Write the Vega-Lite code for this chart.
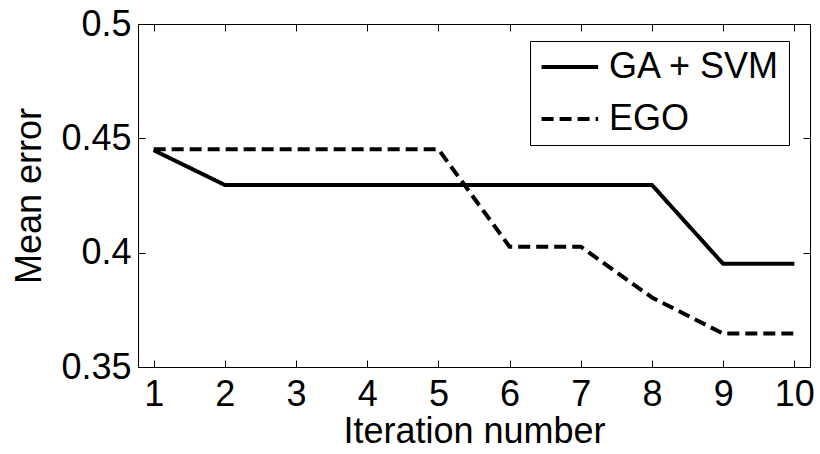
{
  "$schema": "https://vega.github.io/schema/vega-lite/v6.json",
  "width": 672,
  "height": 343,
  "autosize": "none",
  "padding": {"left": 138, "top": 24, "right": 10, "bottom": 87},
  "background": "white",
  "config": {
    "font": "Liberation Sans",
    "view": {"stroke": "black", "strokeWidth": 1},
    "axis": {"grid": false, "domain": false, "tickColor": "black", "labelColor": "black", "titleColor": "black", "labelFont": "Liberation Sans", "titleFont": "Liberation Sans", "labelFontSize": 36, "titleFontSize": 36, "titleFontWeight": "normal", "tickSize": -7, "tickWidth": 1}
  },
  "data": {"values": [
    {"iter": 1, "error": 0.4448, "method": "GA + SVM"},
    {"iter": 2, "error": 0.4296, "method": "GA + SVM"},
    {"iter": 3, "error": 0.4296, "method": "GA + SVM"},
    {"iter": 4, "error": 0.4296, "method": "GA + SVM"},
    {"iter": 5, "error": 0.4296, "method": "GA + SVM"},
    {"iter": 6, "error": 0.4296, "method": "GA + SVM"},
    {"iter": 7, "error": 0.4296, "method": "GA + SVM"},
    {"iter": 8, "error": 0.4296, "method": "GA + SVM"},
    {"iter": 9, "error": 0.3951, "method": "GA + SVM"},
    {"iter": 10, "error": 0.3951, "method": "GA + SVM"},
    {"iter": 1, "error": 0.4452, "method": "EGO"},
    {"iter": 2, "error": 0.4452, "method": "EGO"},
    {"iter": 3, "error": 0.4452, "method": "EGO"},
    {"iter": 4, "error": 0.4452, "method": "EGO"},
    {"iter": 5, "error": 0.4452, "method": "EGO"},
    {"iter": 6, "error": 0.4026, "method": "EGO"},
    {"iter": 7, "error": 0.4026, "method": "EGO"},
    {"iter": 8, "error": 0.3804, "method": "EGO"},
    {"iter": 9, "error": 0.3646, "method": "EGO"},
    {"iter": 10, "error": 0.3646, "method": "EGO"}
  ]},
  "layer": [
    {
      "mark": {"type": "line", "color": "black", "strokeWidth": 4, "strokeJoin": "miter", "strokeCap": "butt"},
      "encoding": {
        "x": {"field": "iter", "type": "quantitative", "scale": {"domain": [0.78, 10.22], "nice": false, "zero": false},
              "axis": {"orient": "bottom", "values": [1,2,3,4,5,6,7,8,9,10], "title": "Iteration number", "labelPadding": 17, "titlePadding": 2}},
        "y": {"field": "error", "type": "quantitative", "scale": {"domain": [0.35, 0.5], "nice": false, "zero": false},
              "axis": {"orient": "left", "values": [0.35, 0.4, 0.45, 0.5], "format": "~g", "title": "Mean error", "labelPadding": 14, "titlePadding": 12}},
        "strokeDash": {"field": "method", "type": "nominal",
          "scale": {"domain": ["GA + SVM", "EGO"], "range": [[1, 0], [12, 6]]},
          "legend": {"title": null, "orient": "none", "legendX": 392, "legendY": 17,
            "symbolType": "M-3,0H1", "symbolSize": 800, "symbolOffset": 28, "symbolStrokeWidth": 4, "symbolStrokeColor": "black",
            "labelFontSize": 36, "labelFont": "Liberation Sans", "labelColor": "black", "labelOffset": 7,
            "strokeColor": "black", "padding": 8, "rowPadding": 16, "fillColor": "white", "labelLimit": 400}}
      }
    },
    {
      "mark": {"type": "point", "opacity": 0},
      "encoding": {
        "x": {"field": "iter", "type": "quantitative", "axis": {"orient": "top", "values": [1,2,3,4,5,6,7,8,9,10], "labels": false, "title": null}},
        "y": {"field": "error", "type": "quantitative", "axis": {"orient": "right", "values": [0.35, 0.4, 0.45, 0.5], "labels": false, "title": null}}
      }
    }
  ],
  "resolve": {"axis": {"x": "independent", "y": "independent"}}
}
